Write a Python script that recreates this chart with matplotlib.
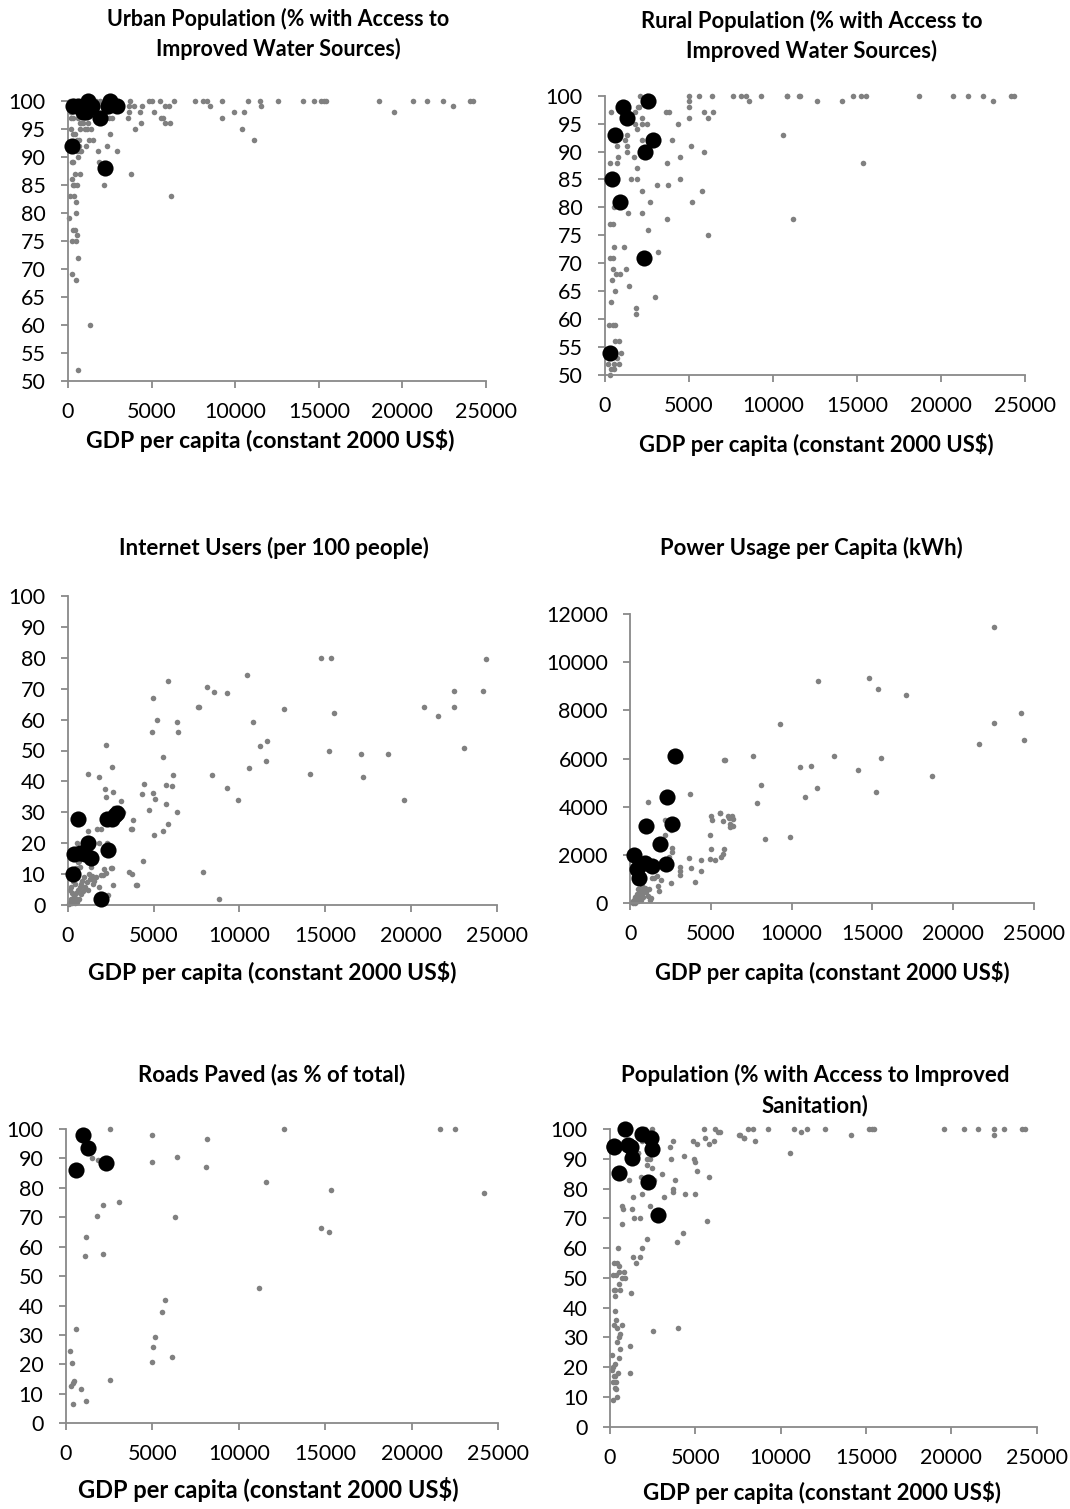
import matplotlib
matplotlib.use("Agg")
import matplotlib.pyplot as plt

plt.rcParams['font.family'] = ['Lato', 'DejaVu Sans']

W, H = 1070, 1509

# ---------------- DATA ----------------
xlabel_text = "GDP per capita (constant 2000 US$)"

# Panel 1: Urban water
urban_gdp = [80,160,220,320,220,280,380,520,120,360,460,460,320,400,220,500,520,580,260,480,1340,580,
             580,520,720,800,280,400,180,320,160,720,760,700,680,1080,560,640,420,720,1160,1360,1200,1280,1520,
             1780,1860,2180,2320,2520,2940,1920,2640,2480,2810,3150,3570,3650,3630,3690,4010,3950,4290,4410,4390,
             3770,4870,5030,5150,5510,5550,5710,5790,6070,6330,5810,6110,6150,7600,8060,8340,8500,9200,9240,9900,
             10500,10780,10420,11140,11500,11560,12560,14050,14710,15150,15290,15450,18620,19520,20660,21500,
             22400,23010,24070,24210,100,300,200,150,600,900,1000,1400,1600,1700,2100,2300,2600]
urban_pct = [79,95,89,89,86,85,85,85,83,83,82,80,77,77,75,75,76,72,69,68,60,52,
             90,91,91,91,94,94,97,97,98,96,96,95,92,92,93,93,87,87,95,95,96,93,93,
             91,89,85,92,94,91,100,97,97,99,99,97,98,99,100,95,99,98,99,96,
             87,100,100,98,100,97,97,99,99,100,96,96,83,100,100,100,99,100,97,98,
             98,100,95,93,100,99,100,100,100,100,100,100,100,98,100,100,
             100,99,100,100,100,100,99,98,97,96,95,98,99,100,99,98,99]
urban_hl_gdp = [300,600,1080,1200,1440,1916,240,2216,2395,2515,2934,900]
urban_hl_pct = [99,99,98,100,99,97,92,88,99,100,99,98]

# Panel 2: Rural water
rural_gdp = [337,2083,2520,1950,2000,1786,2202,1806,2200,2520,1905,1290,1190,2182,694,1329,1290,1726,794,
             300,694,1885,1530,1925,2222,536,1389,2222,2679,2540,300,450,536,1131,300,450,450,1250,400,
             650,920,615,1448,350,1825,1825,2976,3174,250,490,610,600,820,700,952,200,540,820,340,540,300,
             3115,3690,3650,3810,3988,3770,3710,4365,4464,4444,5000,5000,5000,5000,5099,5198,5615,5873,5892,5774,
             6150,6408,6349,6150,7638,8115,8393,8571,9265,10575,10833,11190,11547,10853,11607,12638,14106,14780,
             15218,15535,15337,18707,20730,21587,22480,23113,24147,24345]
rural_pct = [97,100,100,98,98,97,96,95,95,95,94,93,92,92,91,91,90,89,89,
             88,88,87,85,85,83,80,79,79,81,76,77,77,73,73,71,71,69,69,67,
             68,68,65,66,63,62,61,64,72,59,59,59,56,56,53,54,52,52,52,51,51,50,
             84,88,97,97,92,84,78,95,85,89,99,100,98,96,91,81,100,97,90,83,
             96,97,100,75,100,100,100,99,100,93,100,78,100,100,100,99,99,100,
             100,100,88,100,100,100,100,99,100,100]
rural_hl_gdp = [1052,1290,2579,595,2877,2381,436,893,2321,298]
rural_hl_pct = [98,96,99,93,92,90,85,81,71,54]

# Panel 3: Internet users
internet_gdp = [1205,1846,2215,2565,2196,2215,2623,3109,2700,2990,3245,3828,3700,3760,1690,1924,1185,2312,1807,
                530,641,4410,2604,2530,738,2118,3575,3750,3983,4020,2623,1950,2070,2250,1380,1250,1420,1535,1826,2332,
                100,150,200,250,300,350,400,450,500,550,600,650,700,750,800,850,900,950,1000,1100,1200,1300,1400,
                1500,1650,200,300,400,500,600,700,250,150,350,450,
                4994,5188,4935,5868,6354,6412,5538,6121,6101,5732,4994,5091,4449,4333,4760,5713,6373,5868,5577,5013,7617,
                14786,15331,24370,10472,8121,8549,9270,7637,12630,15526,20755,21608,22504,22504,24195,10822,11601,11193,
                11580,15234,17100,18693,23123,10570,17197,14126,8395,9305,9946,19606,7888,8839]
internet_pct = [42.4,41.3,51.9,44.7,37.7,35.1,36.6,33.7,31.3,31.3,30,27.7,24.8,24.8,24.6,24.6,23.9,20,20,
                20,14.4,14.3,12,12,12.4,11.6,10.7,10,6.5,6.5,6.5,9.8,9.8,10.5,12.5,10,9,7.8,5.9,3.4,
                0.5,1,2,0.8,1.5,3,0.7,2.5,4,1.2,5,2,6,3.5,7,8,4.5,9,6,7.5,5,8.5,9.5,
                7,9,6,8,9,12,14,18,4,5,11,7,
                67.1,59.8,55.9,72.6,59.2,56.1,48,42,38.6,39,36.4,34.3,39.3,35.8,30.9,32.8,30,26.3,24,22.7,64,
                79.9,79.8,79.7,74.3,70.5,69,68.7,64.1,63.5,62.1,63.9,61.2,69.1,64,69.1,59.1,53,51.5,
                46.5,49.7,49,48.9,50.8,44.2,41.6,42.5,42,38,34,34,10.8,2]
internet_hl_gdp = [583,369,1205,1010,1341,291,1924,2370,2273,2565,2760,2857,720]
internet_hl_pct = [27.9,16.6,20,16.6,15.2,10,1.9,18,27.9,27.9,29.2,29.7,16.8]

# Panel 4: Power usage
power_gdp = [1122,3679,5868,2174,2504,2174,2586,2560,2430,3637,3100,3760,4402,4380,3110,3070,4010,2504,1470,1630,
             1803,4939,5000,4939,5000,5060,5558,5250,5600,6040,6119,6180,
             22500,11604,14782,15318,17090,9272,24190,22500,24376,21591,7581,12615,5825,10530,11192,14120,15525,
             8097,11582,10802,15215,18701,7868,8364,9911,5565,6300,6350,6150,5730,6350,5800,5730,
             100,200,250,300,350,400,450,500,550,600,650,700,750,800,850,900,1000,1100,1200,1300,1150,150,300,500,
             1337,1700,1900]
power_kwh = [4218,4522,5947,3444,3043,2835,2282,2144,1936,1895,1500,1450,1798,1341,1341,1175,899,830,1065,1134,
             525,2835,2240,1825,3637,3457,3762,1798,1936,3620,3526,3153,
             11474,9221,9345,8903,8655,7424,7907,7466,6774,6608,6110,6096,5944,5654,5710,5530,6014,
             4907,4795,4397,4617,5268,4161,2667,2738,3760,3620,3500,3290,3420,3190,2260,2040,
             50,100,150,250,80,400,200,600,300,500,150,700,400,250,550,650,450,300,150,200,600,20,30,100,
             1037,700,950]
power_hl_gdp = [2770,2298,979,2566,1849,258,413,567,918,1329,2216]
power_hl_kwh = [6127,4426,3209,3292,2448,1992,1411,1037,1660,1549,1618]

# Panel 5: Roads paved
roads_gdp = [2563,1503,1888,3064,2178,1792,1175,1098,2178,5010,4972,6417,6340,5723,5550,5184,5068,6147,4991,
             578,270,347,482,440,328,867,424,1195,2563,
             8167,8109,12618,11595,15334,14774,15219,11190,21617,22501,24195]
roads_pct = [100,90.3,89.5,75.1,74.1,70.4,63.2,56.9,57.5,98.1,88.7,90.6,70,41.9,37.8,29.3,25.9,22.4,20.8,
             31.9,24.5,20.6,14.3,13.6,12.6,11.6,6.6,7.7,14.6,
             96.6,87.1,100,82.1,79.3,66.3,64.9,46,100,100,78.3]
roads_hl_gdp = [1021,1310,2332,578]
roads_hl_pct = [97.9,93.4,88.6,86]

# Panel 6: Sanitation
sanit_gdp = [2051,2480,2150,2250,1860,2150,1370,1660,1660,2150,2350,2187,2480,3066,1797,1133,2597,3808,3671,3671,
             3164,1367,1855,4394,4980,684,780,1269,1380,1770,684,2344,2187,4297,3945,488,1855,1760,1330,
             1530,254,390,527,840,527,370,156,684,880,527,293,570,254,1230,293,293,330,723,410,254,
             527,567,410,605,1172,2539,4004,527,98,293,195,98,488,1172,293,215,332,195,293,332,390,195,
             3515,3671,3574,4355,4941,4980,5077,4882,5077,5527,5566,5703,5820,5800,6093,6152,6348,7617,7870,
             6446,7577,7852,8087,8362,8516,9240,10548,10802,11173,11563,12618,14103,15178,15334,15490,
             19592,20744,21584,22502,22502,23106,24143,24338]
sanit_pct = [100,100,98,98,96,96,94,92,92,90,90,88,87,85,84,83,83,83,80,79,
             77,77,78,78,78,74,73,73,70,70,68,74,63,65,62,60,60,57,57,
             55,55,55,54,52,52,51,51,50,50,48,46,46,46,45,44,39,36,34,33,34,
             30,31,28.5,26,27,32,33,23,24,21,20,19,18,18,17,17,15,15,13,12.5,10,9,
             94,96,90,91,90,89,86,96,95,100,97,69,95,84,96,100,99,98,97,
             98.9,98,96.9,100,100,96,100,91.9,100,99,100,100,98,100,100,100,
             100,100,100,100,98,100,100,100]
sanit_hl_gdp = [879,234,1074,1230,1269,527,1894,2402,2480,2246,2832,254]
sanit_hl_pct = [100,93.8,94.6,94,90.1,85.1,98.2,97,93.2,82.1,71.1,94.2]

# ---------------- LAYOUT (pixel boxes) ----------------
panels = [
    dict(box=(68, 486, 100.7, 381), x=urban_gdp, y=urban_pct, hx=urban_hl_gdp, hy=urban_hl_pct,
         ylim=(50, 100), ystep=5, xmax=25000,
         title="Urban Population (% with Access to\nImproved Water Sources)", tpos=(278, 34), tfs=15.5,
         xl=(270, 440), xlfs=16.5),
    dict(box=(605, 1025, 95.7, 375), x=rural_gdp, y=rural_pct, hx=rural_hl_gdp, hy=rural_hl_pct,
         ylim=(50, 100), ystep=5, xmax=25000,
         title="Rural Population (% with Access to\nImproved Water Sources)", tpos=(812, 36), tfs=15.8,
         xl=(816, 444), xlfs=15.8),
    dict(box=(67.7, 496.7, 595.7, 905.3), x=internet_gdp, y=internet_pct, hx=internet_hl_gdp, hy=internet_hl_pct,
         ylim=(0, 100), ystep=10, xmax=25000,
         title="Internet Users (per 100 people)", tpos=(274, 548), tfs=16,
         xl=(272, 973), xlfs=16.5),
    dict(box=(630.2, 1034, 614, 903.3), x=power_gdp, y=power_kwh, hx=power_hl_gdp, hy=power_hl_kwh,
         ylim=(0, 12000), ystep=2000, xmax=25000,
         title="Power Usage per Capita (kWh)", tpos=(811, 548), tfs=15.9,
         xl=(832, 973), xlfs=15.8),
    dict(box=(65.7, 498.3, 1129, 1423.3), x=roads_gdp, y=roads_pct, hx=roads_hl_gdp, hy=roads_hl_pct,
         ylim=(0, 100), ystep=10, xmax=25000,
         title="Roads Paved (as % of total)", tpos=(272, 1075), tfs=16,
         xl=(268, 1490), xlfs=17),
    dict(box=(610, 1036.7, 1129, 1426.7), x=sanit_gdp, y=sanit_pct, hx=sanit_hl_gdp, hy=sanit_hl_pct,
         ylim=(0, 100), ystep=10, xmax=25000,
         title="Population (% with Access to Improved\nSanitation)", tpos=(815, 1090), tfs=16,
         xl=(822, 1492), xlfs=16),
]

fig = plt.figure(figsize=(W / 100, H / 100), dpi=100)
fig.patch.set_facecolor('white')

axis_gray = '#898989'
dot_gray = '#808080'

for p in panels:
    l, r, t, b = p['box']
    ax = fig.add_axes([l / W, 1 - b / H, (r - l) / W, (b - t) / H])
    ax.scatter(p['x'], p['y'], s=16, color=dot_gray, linewidths=0, zorder=2, clip_on=False)
    ax.scatter(p['hx'], p['hy'], s=135, color='black', linewidths=0, zorder=3, clip_on=False)
    ax.set_xlim(0, p['xmax'])
    ax.set_ylim(*p['ylim'])
    ax.set_xticks(range(0, p['xmax'] + 1, 5000))
    y0, y1 = p['ylim']
    ax.set_yticks(list(range(y0, y1 + 1, p['ystep'])))
    for s in ['top', 'right']:
        ax.spines[s].set_visible(False)
    for s in ['left', 'bottom']:
        ax.spines[s].set_color(axis_gray)
        ax.spines[s].set_linewidth(1.3)
    ax.tick_params(axis='both', direction='out', length=5, width=1.3, color=axis_gray,
                   labelsize=15.5, labelcolor='black')
    ax.tick_params(axis='y', pad=11)
    ax.tick_params(axis='x', pad=10)
    ax.set_facecolor('none')
    fig.text(p['tpos'][0] / W, 1 - p['tpos'][1] / H, p['title'], ha='center', va='center',
             fontsize=p['tfs'], fontweight='bold', linespacing=1.45)
    fig.text(p['xl'][0] / W, 1 - p['xl'][1] / H, xlabel_text, ha='center', va='center',
             fontsize=p['xlfs'], fontweight='bold')

fig.savefig('out.png', dpi=100, facecolor='white')
